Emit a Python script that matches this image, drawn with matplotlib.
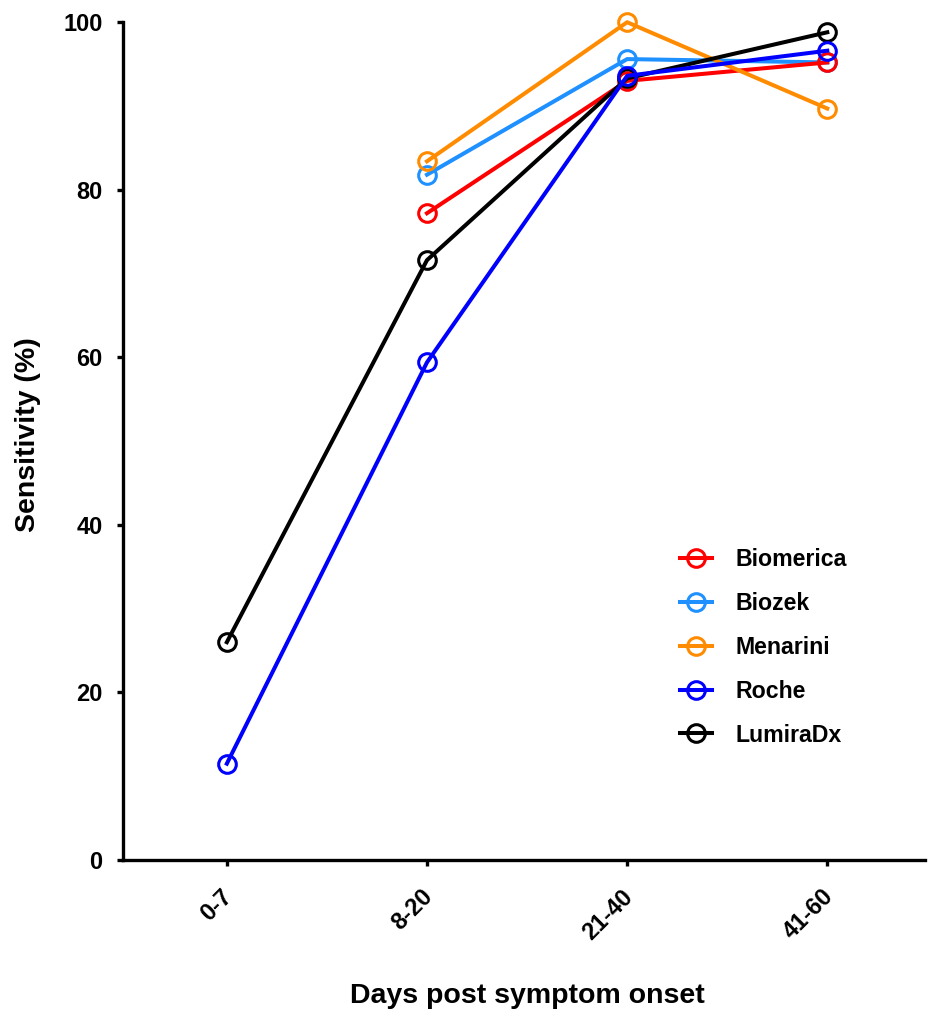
import matplotlib
matplotlib.use("Agg")
import matplotlib.pyplot as plt
import matplotlib.transforms as mtransforms

plt.rcParams['font.family'] = ['Liberation Sans', 'DejaVu Sans']

categories = ["0-7", "8-20", "21-40", "41-60"]
nan = float('nan')
biomerica = [nan, 77.2, 93.0, 95.2]
biozek = [nan, 81.8, 95.6, 95.2]
menarini = [nan, 83.4, 100.0, 89.7]
roche = [11.5, 59.4, 93.6, 96.6]
lumiradx = [26.0, 71.6, 93.3, 98.8]

series = [
    ("Biomerica", biomerica, "#FF0000", 3),
    ("Biozek", biozek, "#1E90FF", 2),
    ("Menarini", menarini, "#FF8C00", 4),
    ("Roche", roche, "#0000FF", 6),
    ("LumiraDx", lumiradx, "#000000", 5),
]

fig = plt.figure(figsize=(9.3, 10.1), dpi=100)
ax = fig.add_axes([0.132, 0.1485, 0.863, 0.8295])
x = list(range(len(categories)))
for name, vals, col, z in series:
    ax.plot(x, vals, color=col, lw=2.9, marker='o', markersize=12.7,
            markerfacecolor='none', markeredgewidth=2.2, label=name, zorder=z,
            clip_on=False)

ax.set_xlim(-0.52, 3.49)
ax.set_ylim(0, 100)
ax.set_yticks([0, 20, 40, 60, 80, 100])
ax.set_xticks(x)
ax.set_xticklabels(categories, rotation=45, ha='right', va='top', rotation_mode='anchor')
for s in ['top', 'right']:
    ax.spines[s].set_visible(False)
for s in ['left', 'bottom']:
    ax.spines[s].set_linewidth(2.4)
ax.tick_params(axis='both', width=2.4, length=4, labelsize=17)
ax.tick_params(axis='y', pad=10.5)
ax.tick_params(axis='x', pad=14)
shift = mtransforms.ScaledTranslation(-6 / 100, 0, fig.dpi_scale_trans)
for lbl in ax.get_xticklabels():
    lbl.set_fontweight('bold')
    lbl.set_transform(lbl.get_transform() + shift)
for lbl in ax.get_yticklabels():
    lbl.set_fontweight('bold')

fig.text(28 / 930, 1 - 435 / 1010, "Sensitivity (%)", fontsize=20.5,
         fontweight='bold', rotation=90, ha='center', va='center')
fig.text(0.5 * (350 + 705) / 930, 7 / 1010, "Days post symptom onset",
         fontsize=20.5, fontweight='bold', ha='center', va='baseline')

leg = fig.legend(loc='upper left', bbox_to_anchor=(680 / 930, 1 - 548 / 1010),
                 frameon=False, prop={'weight': 'bold', 'size': 16.7},
                 handlelength=1.4, labelspacing=0.9, handletextpad=1.0,
                 borderpad=0, borderaxespad=0)

fig.savefig("out.png", dpi=100)
